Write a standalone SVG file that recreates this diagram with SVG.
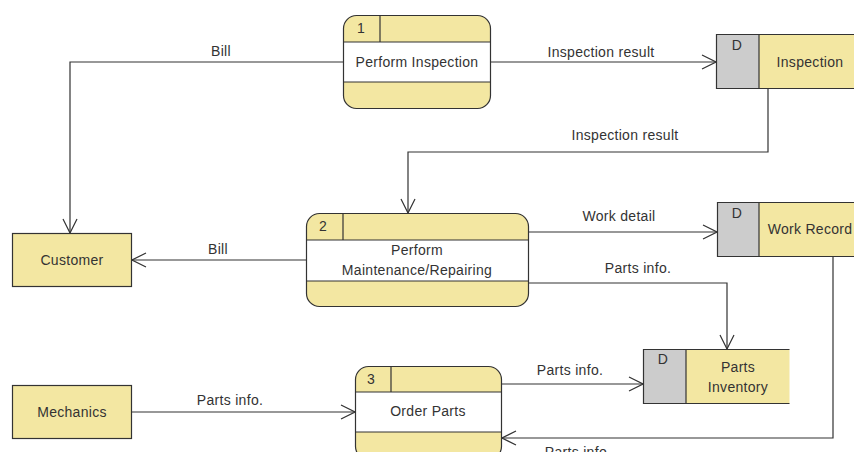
<svg xmlns="http://www.w3.org/2000/svg" width="854" height="452" viewBox="0 0 854 452">
  <defs>
    <marker id="open-arrow" viewBox="0 0 16 16" refX="15" refY="8" markerWidth="16" markerHeight="16" markerUnits="userSpaceOnUse" orient="auto">
      <path d="M1,1 L15,8 L1,15" fill="none" stroke="#333" stroke-width="1.2"/>
    </marker>
    <clipPath id="p1clip"><rect x="343.5" y="15.5" width="147" height="93" rx="13"/></clipPath>
    <clipPath id="p2clip"><rect x="306.5" y="213.5" width="222" height="93" rx="13"/></clipPath>
    <clipPath id="p3clip"><rect x="355.5" y="366.5" width="146" height="93" rx="13"/></clipPath>
  </defs>
  <style>
    text { font-family: "Liberation Sans", Arial, sans-serif; font-size: 14px; letter-spacing: 0.3px; fill: #333; }
    .lbl { text-anchor: middle; }
    .yellow { fill: #F3E7A2; }
    .white { fill: #FFFFFF; }
    .gray { fill: #CCCCCC; }
    .edge { fill: none; stroke: #333; stroke-width: 1.2; }
    .entity { fill: #F3E7A2; stroke: #333; stroke-width: 1.2; }
    .line { fill: none; stroke: #333; stroke-width: 1.2; }
    .flow { fill: none; stroke: #333; stroke-width: 1.2; marker-end: url(#open-arrow); }
  </style>

  <rect width="854" height="452" fill="#FFFFFF"/>

  <!-- data flows -->
  <g id="connectors">
    <polyline class="flow" points="343,62 70,62 70,233"/>
    <text x="221" y="56" class="lbl">Bill</text>

    <polyline class="flow" points="491,62 716,62"/>
    <text x="601" y="57" class="lbl">Inspection result</text>

    <polyline class="flow" points="768,89 768,152 408,152 408,213"/>
    <text x="625" y="140" class="lbl">Inspection result</text>

    <polyline class="flow" points="306,260 132,260"/>
    <text x="218" y="254" class="lbl">Bill</text>

    <polyline class="flow" points="529,232 717,232"/>
    <text x="619" y="221" class="lbl">Work detail</text>

    <polyline class="flow" points="529,283 727,283 727,349"/>
    <text x="638" y="273" class="lbl">Parts info.</text>

    <polyline class="flow" points="502,384 643,384"/>
    <text x="570" y="375" class="lbl">Parts info.</text>

    <polyline class="flow" points="132,412 355,412"/>
    <text x="230" y="405" class="lbl">Parts info.</text>

    <polyline class="flow" points="833,256 833,438 502,438"/>
    <text x="578" y="457" class="lbl">Parts info.</text>
  </g>

  <!-- process 1 -->
  <g id="process-1">
    <g clip-path="url(#p1clip)">
      <rect x="343.5" y="15.5" width="147" height="93" class="yellow"/>
      <rect x="343.5" y="42" width="147" height="40" class="white"/>
    </g>
    <rect x="343.5" y="15.5" width="147" height="93" rx="13" class="edge"/>
    <line x1="343.5" y1="42" x2="490.5" y2="42" class="line"/>
    <line x1="343.5" y1="82" x2="490.5" y2="82" class="line"/>
    <line x1="380" y1="15.5" x2="380" y2="42" class="line"/>
    <text x="357" y="33">1</text>
    <text x="417" y="67" class="lbl">Perform Inspection</text>
  </g>

  <!-- process 2 -->
  <g id="process-2">
    <g clip-path="url(#p2clip)">
      <rect x="306.5" y="213.5" width="222" height="93" class="yellow"/>
      <rect x="306.5" y="240" width="222" height="41" class="white"/>
    </g>
    <rect x="306.5" y="213.5" width="222" height="93" rx="13" class="edge"/>
    <line x1="306.5" y1="240" x2="528.5" y2="240" class="line"/>
    <line x1="306.5" y1="281" x2="528.5" y2="281" class="line"/>
    <line x1="343" y1="213.5" x2="343" y2="240" class="line"/>
    <text x="319" y="231">2</text>
    <text x="417" y="255" class="lbl">Perform</text>
    <text x="417" y="275" class="lbl">Maintenance/Repairing</text>
  </g>

  <!-- process 3 -->
  <g id="process-3">
    <g clip-path="url(#p3clip)">
      <rect x="355.5" y="366.5" width="146" height="93" class="yellow"/>
      <rect x="355.5" y="392" width="146" height="40" class="white"/>
    </g>
    <rect x="355.5" y="366.5" width="146" height="93" rx="13" class="edge"/>
    <line x1="355.5" y1="392" x2="501.5" y2="392" class="line"/>
    <line x1="355.5" y1="432" x2="501.5" y2="432" class="line"/>
    <line x1="391" y1="366.5" x2="391" y2="392" class="line"/>
    <text x="367" y="384">3</text>
    <text x="428" y="416" class="lbl">Order Parts</text>
  </g>

  <!-- data store: Inspection -->
  <g id="store-inspection">
    <rect x="716.5" y="34.5" width="145" height="54" class="yellow"/>
    <rect x="716.5" y="34.5" width="42.5" height="54" class="gray"/>
    <polyline class="line" points="862,34.5 716.5,34.5 716.5,88.5 862,88.5"/>
    <line x1="759" y1="34.5" x2="759" y2="88.5" class="line"/>
    <text x="737" y="50" class="lbl">D</text>
    <text x="810" y="67" class="lbl">Inspection</text>
  </g>

  <!-- data store: Work Record -->
  <g id="store-work-record">
    <rect x="717.5" y="202.5" width="145" height="54" class="yellow"/>
    <rect x="717.5" y="202.5" width="41.5" height="54" class="gray"/>
    <polyline class="line" points="862,202.5 717.5,202.5 717.5,256.5 862,256.5"/>
    <line x1="759" y1="202.5" x2="759" y2="256.5" class="line"/>
    <text x="737" y="218" class="lbl">D</text>
    <text x="810" y="234" class="lbl">Work Record</text>
  </g>

  <!-- data store: Parts Inventory -->
  <g id="store-parts-inventory">
    <rect x="643.5" y="349.5" width="146" height="54" class="yellow"/>
    <rect x="643.5" y="349.5" width="42.5" height="54" class="gray"/>
    <polyline class="line" points="789.5,349.5 643.5,349.5 643.5,403.5 789.5,403.5"/>
    <line x1="686" y1="349.5" x2="686" y2="403.5" class="line"/>
    <text x="663" y="364" class="lbl">D</text>
    <text x="738" y="372" class="lbl">Parts</text>
    <text x="738" y="392" class="lbl">Inventory</text>
  </g>

  <!-- external entity: Customer -->
  <g id="entity-customer">
    <rect x="12.5" y="233.5" width="119" height="53" class="entity"/>
    <text x="72" y="265" class="lbl">Customer</text>
  </g>

  <!-- external entity: Mechanics -->
  <g id="entity-mechanics">
    <rect x="12.5" y="385.5" width="119" height="53" class="entity"/>
    <text x="72" y="417" class="lbl">Mechanics</text>
  </g>
</svg>
